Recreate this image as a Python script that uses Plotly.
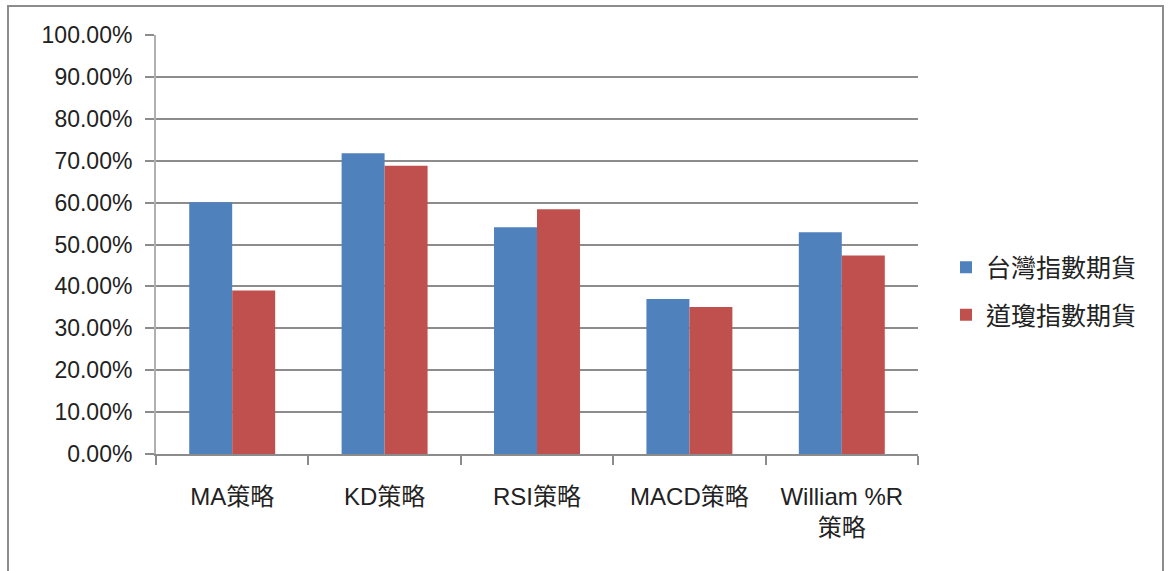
import plotly.graph_objects as go

# Strategy categories and win-rate values (fractions)
categories = ["MA策略", "KD策略", "RSI策略", "MACD策略", "William %R<br>策略"]
taiwan_futures = [0.601, 0.718, 0.541, 0.370, 0.529]
dow_futures = [0.390, 0.688, 0.584, 0.351, 0.474]
series_names = ["台灣指數期貨", "道瓊指數期貨"]
y_ticks = [i / 10 for i in range(11)]

W, H = 1170, 571
# plot area in pixels
L, R, T, B = 156, 918, 35, 454
pw, ph = R - L, B - T

def px_x(x):
    return (x - L) / pw

def px_y(y):
    return (B - y) / ph

FONT = "Liberation Sans, Arial, Noto Sans CJK TC, sans-serif"

fig = go.Figure()
fig.add_trace(go.Bar(x=categories, y=taiwan_futures, name=series_names[0],
                     marker=dict(color="#4F81BD", line=dict(width=0)),
                     legendgroup="a"))
fig.add_trace(go.Bar(x=categories, y=dow_futures, name=series_names[1],
                     marker=dict(color="#C0504D", line=dict(width=0)),
                     legendgroup="b"))

fig.update_layout(
    width=W, height=H,
    margin=dict(l=L, r=W - R, t=T, b=H - B, pad=0),
    paper_bgcolor="white", plot_bgcolor="white",
    barmode="group", bargap=0.436, bargroupgap=0,
    font=dict(family=FONT, size=23, color="#222222"),
    legend=dict(x=px_x(946), y=px_y(291), xanchor="left", yanchor="middle",
                font=dict(family="Noto Sans CJK TC, sans-serif", size=25, color="#222222"),
                tracegroupgap=12, bgcolor="rgba(0,0,0,0)"),
    xaxis=dict(type="category", showgrid=False, showline=True, linecolor="#8c8c8c",
               linewidth=1.5, ticks="outside", tickson="boundaries", ticklen=9,
               tickcolor="#8c8c8c", tickwidth=1.5, ticklabelstandoff=20,
               tickfont=dict(family="Liberation Sans, Noto Sans CJK TC, sans-serif", size=24)),
    yaxis=dict(range=[0, 1], tickvals=y_ticks, tickformat=".2%", showgrid=True,
               gridcolor="#8c8c8c", gridwidth=1.5, showline=True, linecolor="#b0b0b0",
               linewidth=2, ticks="outside", ticklen=9, tickcolor="#8c8c8c",
               tickwidth=1.5, zeroline=False, fixedrange=True, ticklabelstandoff=8,
               tickfont=dict(size=23)),
    shapes=[dict(type="rect", xref="paper", yref="paper",
                 x0=px_x(8), x1=px_x(1163), y0=px_y(575), y1=px_y(6),
                 line=dict(color="#8c8c8c", width=2), fillcolor="rgba(0,0,0,0)",
                 layer="below")],
)

fig.write_html("out.html")
